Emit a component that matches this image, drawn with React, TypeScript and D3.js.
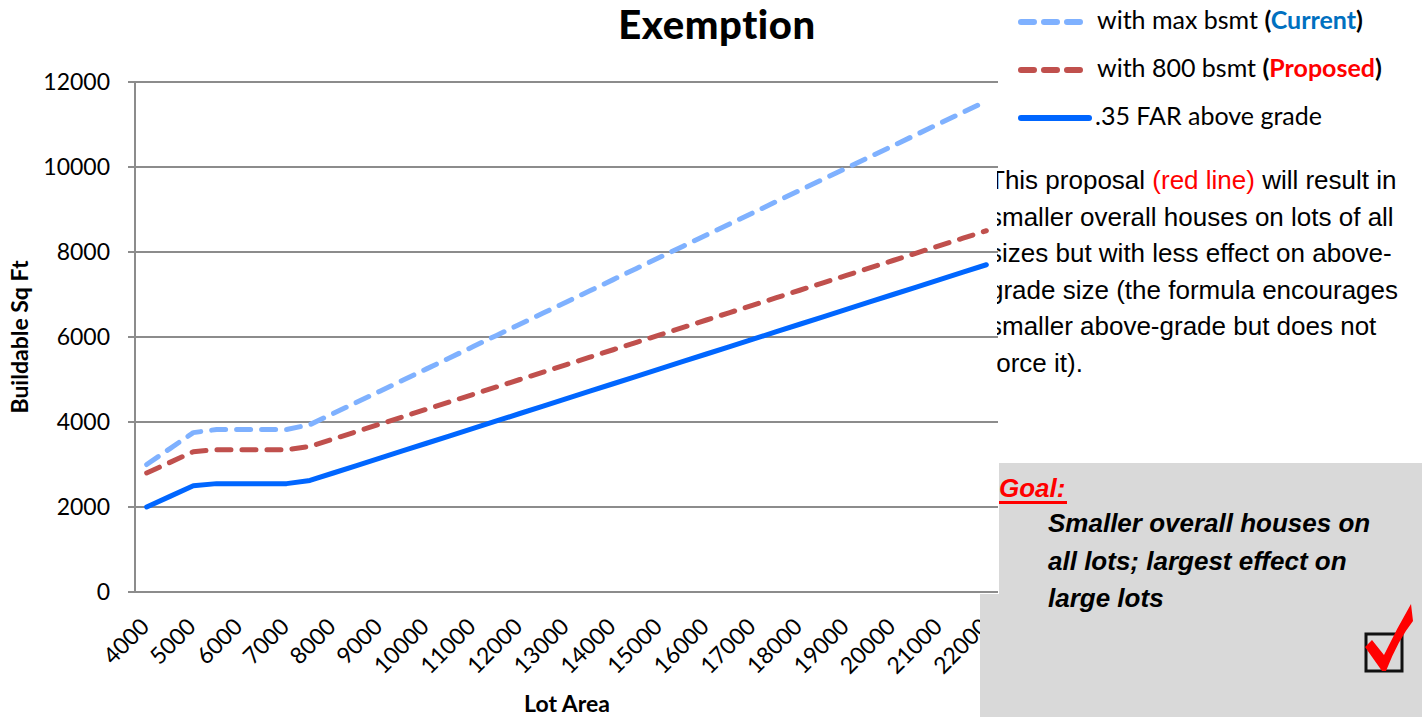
import React from 'react';
import * as d3 from 'd3';

const lotAreas = [
  4000, 4500, 5000, 5500, 6000, 6500, 7000, 7500, 8000, 8500, 9000, 9500,
  10000, 10500, 11000, 11500, 12000, 12500, 13000, 13500, 14000, 14500,
  15000, 15500, 16000, 16500, 17000, 17500, 18000, 18500, 19000, 19500,
  20000, 20500, 21000, 21500, 22000,
];

const xTickLabels = [
  '4000', '5000', '6000', '7000', '8000', '9000', '10000', '11000', '12000',
  '13000', '14000', '15000', '16000', '17000', '18000', '19000', '20000',
  '21000', '22000',
];

const maxBsmtCurrent = [
  3000, 3375, 3750, 3825, 3825, 3825, 3825, 3938, 4200, 4463, 4725, 4988,
  5250, 5513, 5775, 6038, 6300, 6563, 6825, 7088, 7350, 7613, 7875, 8138,
  8400, 8663, 8925, 9188, 9450, 9713, 9975, 10238, 10500, 10763, 11025,
  11288, 11550,
];

const bsmt800Proposed = [
  2800, 3050, 3300, 3350, 3350, 3350, 3350, 3425, 3600, 3775, 3950, 4125,
  4300, 4475, 4650, 4825, 5000, 5175, 5350, 5525, 5700, 5875, 6050, 6225,
  6400, 6575, 6750, 6925, 7100, 7275, 7450, 7625, 7800, 7975, 8150, 8325,
  8500,
];

const farAboveGrade = [
  2000, 2250, 2500, 2550, 2550, 2550, 2550, 2625, 2800, 2975, 3150, 3325,
  3500, 3675, 3850, 4025, 4200, 4375, 4550, 4725, 4900, 5075, 5250, 5425,
  5600, 5775, 5950, 6125, 6300, 6475, 6650, 6825, 7000, 7175, 7350, 7525,
  7700,
];

const yTicks = [0, 2000, 4000, 6000, 8000, 10000, 12000];

const paragraphLines = [
  'This proposal |(red line)| will result in',
  'smaller overall houses on lots of all',
  'sizes but with less effect on above-',
  'grade size (the formula encourages',
  'smaller above-grade but does not',
  'force it).',
];

const goalLines = [
  'Smaller overall houses on',
  'all lots; largest effect on',
  'large lots',
];

const W = 1422;
const H = 717;
const PL = 135;
const PR = 998;
const PT = 82;
const PB = 592;

const CAL = 'Lato, "Open Sans", sans-serif';
const ARIAL = '"Liberation Sans", Arial, sans-serif';

export default function App() {
  const x = d3.scalePoint<number>().domain(lotAreas).range([PL, PR]).padding(0.5);
  const y = d3.scaleLinear().domain([0, 12000]).range([PB, PT]);

  const mk = (vals: number[]) =>
    d3
      .line<number>()
      .x((_, i) => x(lotAreas[i]) as number)
      .y((d) => y(d))(vals) as string;

  const series = [
    { vals: maxBsmtCurrent, color: '#7FB1FF', dash: '14 11' },
    { vals: bsmt800Proposed, color: '#C0504D', dash: '14 11' },
    { vals: farAboveGrade, color: '#0066FF', dash: null },
  ];

  return (
    <svg
      width={W}
      height={H}
      style={{ position: 'absolute', left: 0, top: 0, display: 'block', background: '#fff' }}
    >
      <defs>
        <clipPath id="paraClip">
          <rect x={997} y={140} width={430} height={260} />
        </clipPath>
      </defs>

      {/* Title */}
      <text x={717} y={39} textAnchor="middle" fontFamily={CAL} fontWeight="900" fontSize={40} fill="#000" letterSpacing={0.6}>
        Exemption
      </text>

      {/* gridlines */}
      {yTicks.map((t) => (
        <line key={t} x1={PL - 7} x2={PR} y1={y(t)} y2={y(t)} stroke="#8C8C8C" strokeWidth={2} />
      ))}
      <line x1={PL} x2={PL} y1={PT} y2={PB} stroke="#8C8C8C" strokeWidth={2} />

      {/* y tick labels */}
      {yTicks.map((t) => (
        <text key={t} x={110} y={y(t)} dy="0.36em" textAnchor="end" fontFamily={CAL} fontSize={23} fill="#000">
          {t}
        </text>
      ))}

      {/* x tick labels */}
      {xTickLabels.map((lab) => {
        const px = x(+lab) as number;
        return (
          <text
            key={lab}
            transform={`translate(${px + 4},${628}) rotate(-45)`}
            textAnchor="end"
            fontFamily={CAL}
            fontSize={23}
            fill="#000"
          >
            {lab}
          </text>
        );
      })}

      {/* axis titles */}
      <text
        transform={`translate(28,337) rotate(-90)`}
        textAnchor="middle"
        fontFamily={CAL}
        fontWeight="bold"
        fontSize={23}
        fill="#000"
      >
        Buildable Sq Ft
      </text>
      <text x={567} y={712} textAnchor="middle" fontFamily={CAL} fontWeight="bold" fontSize={23} fill="#000">
        Lot Area
      </text>

      {/* series */}
      {series.map((s, i) => (
        <path
          key={i}
          d={mk(s.vals)}
          fill="none"
          stroke={s.color}
          strokeWidth={5}
          strokeDasharray={s.dash ?? undefined}
          strokeLinecap="round"
          strokeLinejoin="round"
        />
      ))}

      {/* legend */}
      <line x1={1021} x2={1086} y1={22} y2={22} stroke="#7FB1FF" strokeWidth={6} strokeDasharray="13 10" strokeLinecap="round" />
      <text x={1097} y={29} fontFamily={CAL} fontSize={25} fill="#000">
        with max bsmt <tspan fontWeight="bold">(</tspan>
        <tspan fontWeight="bold" fill="#0070C0">Current</tspan>
        <tspan fontWeight="bold">)</tspan>
      </text>
      <line x1={1021} x2={1086} y1={70} y2={70} stroke="#C0504D" strokeWidth={6} strokeDasharray="13 10" strokeLinecap="round" />
      <text x={1097} y={77} fontFamily={CAL} fontSize={25} fill="#000">
        with 800 bsmt <tspan fontWeight="bold">(</tspan>
        <tspan fontWeight="bold" fill="#FF0000">Proposed</tspan>
        <tspan fontWeight="bold">)</tspan>
      </text>
      <line x1={1021} x2={1089} y1={118} y2={118} stroke="#0066FF" strokeWidth={6} strokeLinecap="round" />
      <text x={1095} y={125} fontFamily={CAL} fontSize={25} fill="#000">
        .35 FAR above grade
      </text>

      {/* paragraph */}
      <g clipPath="url(#paraClip)">
        {paragraphLines.map((ln, i) => {
          const parts = ln.split('|');
          return (
            <text key={i} x={989} y={189 + i * 36.6} fontFamily={ARIAL} fontSize={26} fill="#000">
              {parts.map((p, j) => (
                <tspan key={j} fill={j === 1 ? '#FF0000' : '#000'}>
                  {p}
                </tspan>
              ))}
            </text>
          );
        })}
      </g>

      {/* goal box */}
      <path d="M999,463 L1422,463 L1422,717 L980,717 L980,594 L999,594 Z" fill="#D9D9D9" />
      <text x={999} y={497} fontFamily={ARIAL} fontSize={26} fontWeight="bold" fontStyle="italic" fill="#FF0000">
        Goal:
      </text>
      <line x1={999} x2={1067} y1={502.5} y2={502.5} stroke="#FF0000" strokeWidth={3} />
      {goalLines.map((ln, i) => (
        <text
          key={i}
          x={1048}
          y={532 + i * 37.5}
          fontFamily={ARIAL}
          fontSize={26}
          fontWeight="bold"
          fontStyle="italic"
          fill="#000"
        >
          {ln}
        </text>
      ))}

      {/* checkbox */}
      <rect x={1366} y={634} width={36} height={37} fill="none" stroke="#111" strokeWidth={3} />
      <path
        d="M1365,647 L1372,640 L1384,655 Q1397,628 1411,604 L1413,621 Q1398,640 1386,671 L1382,671 Z"
        fill="#FF0000"
      />
    </svg>
  );
}
